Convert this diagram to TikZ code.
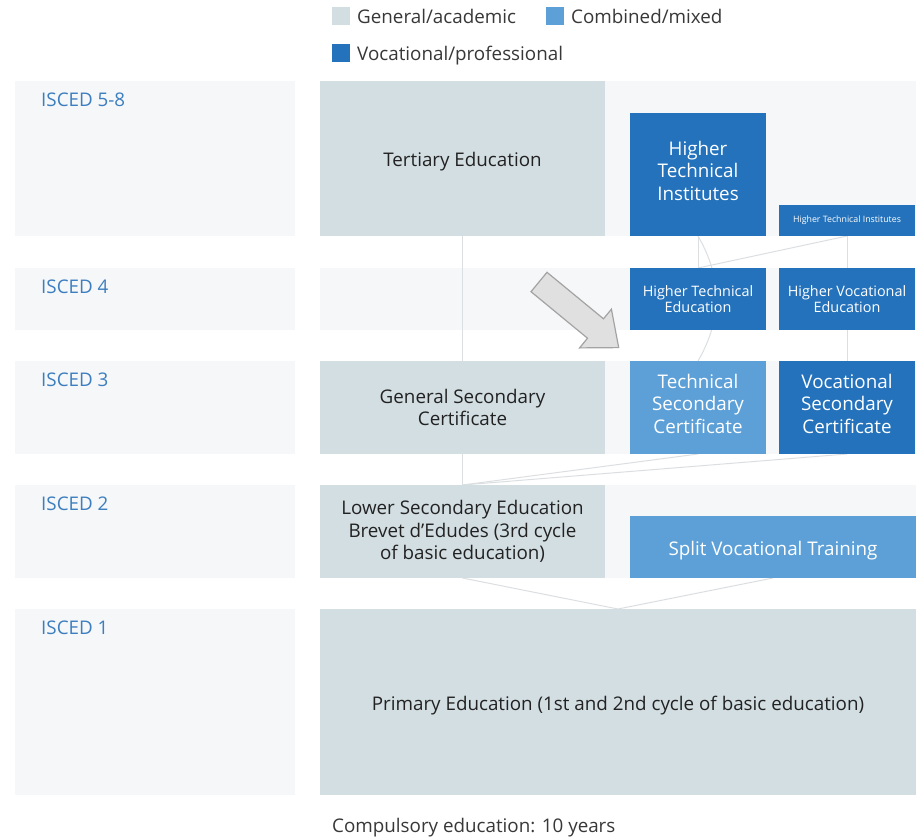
\documentclass[tikz,border=0pt]{standalone}
\usepackage{fontspec}
\setmainfont{Open Sans}
\definecolor{general}{HTML}{D3DEE3}
\definecolor{combined}{HTML}{5DA0D7}
\definecolor{vocational}{HTML}{2472BB}
\definecolor{band}{HTML}{F5F7F8}
\definecolor{iscedblue}{HTML}{3D7EC0}
\definecolor{linkgray}{HTML}{DCDFE2}
\definecolor{arrowfill}{HTML}{E0E0E0}
\definecolor{arrowline}{HTML}{A3A3A3}
\definecolor{darktext}{HTML}{222222}
\pgfdeclarelayer{bands}
\pgfdeclarelayer{links}
\pgfsetlayers{bands,links,main}
\tikzset{
  box/.style={rectangle, inner sep=0pt, outer sep=0pt, align=center,
    font=\fontsize{18.8}{22.5}\selectfont},
  genbox/.style={box, fill=general, text=darktext},
  mixbox/.style={box, fill=combined, text=white},
  vocbox/.style={box, fill=vocational, text=white},
  oneline/.style={text height=16pt, text depth=0pt},
  threeline/.style={text height=51.4pt, text depth=0pt},
  link/.style={draw=linkgray, line width=1pt},
  level/.style={anchor=base west, inner sep=0pt, text=iscedblue,
    font=\fontsize{18.8}{22.5}\selectfont},
  legend/.style={anchor=base west, inner sep=0pt, text=darktext!90,
    font=\fontsize{18.8}{22.5}\selectfont},
  swatch/.style={rectangle, inner sep=0pt, outer sep=0pt, minimum size=18pt},
}

\begin{document}
\begin{tikzpicture}[x=1pt, y=-1pt]
    \useasboundingbox (0,0) rectangle (916,838);
    \begin{pgfonlayer}{bands}
        \fill[white] (0,0) rectangle (916,838);
        \fill[band] (15,81) rectangle (295,236);
        \fill[band] (320,81) rectangle (916,236);
        \fill[band] (15,268) rectangle (295,330);
        \fill[band] (320,268) rectangle (916,330);
        \fill[band] (15,361) rectangle (295,454);
        \fill[band] (320,361) rectangle (916,454);
        \fill[band] (15,485) rectangle (295,578);
        \fill[band] (320,485) rectangle (916,578);
        \fill[band] (15,609) rectangle (295,795);
        \fill[band] (320,609) rectangle (916,795);
    \end{pgfonlayer}
    \node[swatch, fill=general] (swGen) at (341,16) {};
    \node[legend] (txGen) at (357,23) {General/academic};
    \node[swatch, fill=combined] (swMix) at (555,16) {};
    \node[legend] (txMix) at (571,23) {Combined/mixed};
    \node[swatch, fill=vocational] (swVoc) at (341,53) {};
    \node[legend] (txVoc) at (357,60) {Vocational/professional};
    \node[level] (isced58) at (41,106) {ISCED 5-8};
    \node[level] (isced4) at (41,293) {ISCED 4};
    \node[level] (isced3) at (41,386) {ISCED 3};
    \node[level] (isced2) at (41,510) {ISCED 2};
    \node[level] (isced1) at (41,634) {ISCED 1};
    \node[genbox, oneline, minimum width=285pt, minimum height=155pt] (tert) at (462.5,158.5) {Tertiary Education};
    \node[vocbox, threeline, minimum width=136pt, minimum height=123pt] (hti) at (698,174.5) {Higher\\Technical\\Institutes};
    \node[vocbox, minimum width=136pt, minimum height=31pt, font=\fontsize{8.8}{10}\selectfont] (htis) at (847,220.5) {Higher Technical Institutes};
    \node[vocbox, minimum width=136pt, minimum height=62pt, font=\fontsize{14.4}{16.5}\selectfont] (hte) at (698,299) {Higher Technical\\Education};
    \node[vocbox, minimum width=136pt, minimum height=62pt, font=\fontsize{14.4}{16.5}\selectfont] (hve) at (847,299) {Higher Vocational\\Education};
    \node[genbox, minimum width=285pt, minimum height=93pt] (gsc) at (462.5,407.5) {General Secondary\\Certificate};
    \node[mixbox, threeline, minimum width=136pt, minimum height=93pt] (tsc) at (698,407.5) {Technical\\Secondary\\Certificate};
    \node[vocbox, threeline, minimum width=136pt, minimum height=93pt] (vsc) at (847,407.5) {Vocational\\Secondary\\Certificate};
    \node[genbox, minimum width=285pt, minimum height=93pt] (lse) at (462.5,531.5) {Lower Secondary Education\\Brevet d’Edudes (3rd cycle\\of basic education)};
    \node[mixbox, oneline, minimum width=286pt, minimum height=62pt] (svt) at (773,547) {Split Vocational Training};
    \node[genbox, oneline, minimum width=596pt, minimum height=186pt] (prim) at (618,702) {Primary Education (1st and 2nd cycle of basic education)};
    \node[legend] (compulsory) at (332,832) {Compulsory education: 10 years};
    \begin{pgfonlayer}{links}
        \draw[link] (tert.south) -- (gsc.north);
        \draw[link] (hti.south) -- (hte.north);
        \draw[link] (hti.south) to[bend left=30] (tsc.north);
        \draw[link] (htis.south) -- (hte.north);
        \draw[link] (htis.south) -- (hve.north);
        \draw[link] (hve.south) -- (vsc.north);
        \draw[link] (gsc.south) -- (lse.north);
        \draw[link] (tsc.south) -- (lse.north);
        \draw[link] (vsc.south) -- (lse.north);
        \draw[link] (lse.south) -- (prim.north);
        \draw[link] (svt.south) -- (prim.north);
    \end{pgfonlayer}
    \filldraw[fill=arrowfill, draw=arrowline, line width=1.2pt] (547,272.3) -- (603.5,318.8) -- (611.4,309.2) -- (618.7,347.6) -- (579.6,347.9) -- (587.5,338.2) -- (531,291.7) -- cycle;
\end{tikzpicture}
\end{document}
